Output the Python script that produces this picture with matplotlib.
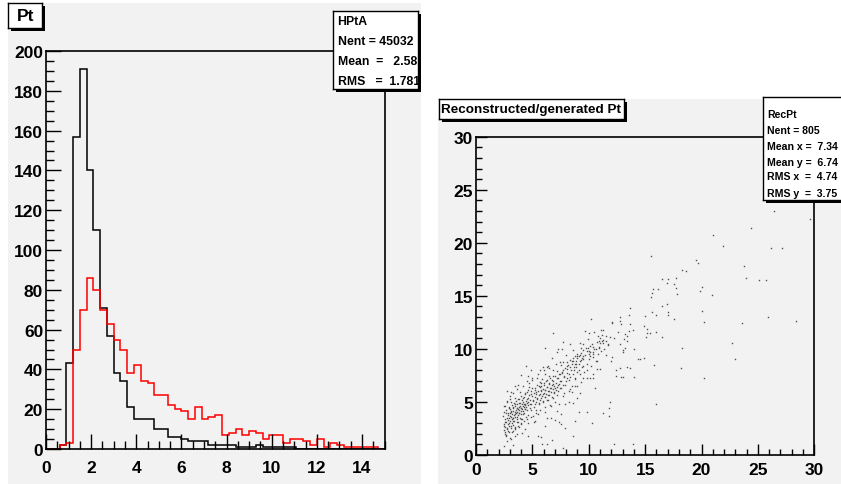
import numpy as np
import matplotlib
matplotlib.use("Agg")
import matplotlib.pyplot as plt
from matplotlib.patches import Rectangle

plt.rcParams['font.family'] = ['Liberation Sans', 'DejaVu Sans']
plt.rcParams['font.weight'] = 'bold'

# --- left pad: Pt histograms, 50 bins of 0.3 from 0 to 15
pt_edges = np.linspace(0, 15, 51)
pt_black = [0, 0, 2, 43, 157, 191, 140, 110, 71, 57,
            38, 34, 21, 15, 15, 15, 10, 10, 6, 6,
            5, 4, 4, 4, 2, 2, 2, 2, 1, 1,
            1, 2, 1, 1, 1, 1, 1, 0, 0, 0,
            0, 0, 0, 0, 0, 0, 0, 0, 0, 0]
pt_red = [0, 0, 2, 3, 50, 70, 86, 80, 70, 63,
          55, 50, 38, 42, 34, 33, 27, 27, 22, 20,
          19, 15, 21, 15, 16, 17, 7, 8, 10, 7,
          9, 8, 5, 7, 7, 3, 5, 5, 4, 2,
          5, 1, 3, 2, 1, 1, 1, 1, 1, 0]
hist_stats = ["HPtA", "Nent = 45032", "Mean  =   2.58", "RMS   =  1.781"]

# --- right pad: reconstructed vs generated Pt
rec_x = [26.4, 29.6, 24.4, 21.0, 21.9, 26.2, 27.1, 15.5, 19.5, 19.7, 23.8, 18.3, 18.6, 23.9, 25.1,
         25.7, 16.5, 17.0, 17.7, 16.9, 17.6, 20.0, 15.7, 16.1, 17.7, 19.9, 15.6, 17.8, 20.9, 15.5,
         16.9, 16.5, 13.7, 20.0, 15.6, 17.0, 13.6, 16.0, 17.0, 15.0, 12.8, 17.6, 12.8, 25.9, 28.4,
         20.2, 23.6, 12.9, 13.7, 14.9, 15.2, 13.9, 13.6, 12.6, 16.0, 15.2, 15.4, 13.2, 13.4, 16.5,
         15.1, 13.1, 13.4, 12.8, 22.7, 13.2, 18.3, 14.0, 13.0, 13.0, 14.9, 14.4, 14.5, 23.0, 15.8,
         13.4, 13.7, 12.8, 18.2, 12.4, 12.9, 13.0, 14.0, 12.4, 20.2, 16.0, 13.9,
         10.2, 12.1, 12.1, 11.1, 11.3, 9.7, 10.5, 10.0, 6.8, 11.2, 10.8, 11.5, 11.9, 12.2, 9.9,
         10.9, 11.2, 11.5, 7.7, 11.0, 11.3, 8.3, 9.5, 11.7, 10.1, 10.4, 6.1, 9.3, 9.75, 10.9,
         10.6, 7.3, 7.6, 11.35, 9.5, 9.8, 10.05, 7.2, 10.35, 9.0, 10.0, 9.2, 10.4, 9.5, 8.8,
         9.1, 10.1, 8.6, 9.0, 9.4, 6.74, 12.1, 9.3, 8.33, 8.6, 8.9, 7.68, 8.04, 7.45, 10.76,
         12.0, 8.5, 8.75, 9.1, 7.09, 7.57, 8.04, 8.33, 8.87, 9.5, 5.91, 6.27, 6.5, 7.74, 8.04,
         8.69, 9.81, 5.67, 6.86, 7.15, 8.98, 7.62, 8.22, 7.45, 9.22, 10.7, 6.15, 6.5, 6.86, 7.8,
         7.15, 8.04, 8.75, 9.5, 10.1, 10.4, 5.85, 6.27, 6.74, 7.45, 8.22, 5.67, 6.03, 6.5, 6.86,
         7.27, 7.86, 8.51, 8.92, 5.79, 6.27, 6.68, 7.03, 7.51, 10.58, 5.73, 6.09, 6.5, 6.92, 8.22,
         8.51, 5.67, 5.97, 6.38, 9.22, 5.73, 6.15, 6.86, 7.74, 8.92, 5.91, 6.27, 7.39, 7.86, 6.62,
         11.88, 11.82, 8.27, 8.63, 6.09, 9.16, 9.81, 11.23, 11.76, 7.51, 6.62, 6.97, 7.33, 7.51, 8.75,
         10.28, 6.15, 7.92, 8.63, 5.79, 6.74, 5.85, 6.27, 7.68, 12.2,
         4.43, 4.85, 4.02, 4.61, 4.96, 5.38, 4.49, 3.72, 4.14, 3.43, 4.67, 5.2, 5.61, 2.78, 3.13,
         3.9, 4.31, 4.9, 5.32, 3.01, 3.43, 3.72, 4.14, 4.61, 5.02, 5.44, 2.72, 3.13, 3.49, 3.84,
         4.31, 4.79, 5.2, 5.56, 2.54, 2.9, 3.25, 3.61, 3.96, 4.37, 4.85, 5.32, 2.48, 2.84, 3.13,
         3.43, 3.78, 4.2, 4.61, 5.08, 5.5, 2.42, 2.72, 3.01, 3.31, 3.66, 4.02, 4.49, 2.6, 2.9,
         3.25, 3.61, 4.02, 4.61, 5.14, 2.48, 2.78, 3.13, 3.49, 3.84, 4.31, 2.54, 2.95, 3.31, 3.66,
         4.08, 2.66, 3.01, 3.43, 2.72, 3.13, 4.61, 5.5, 2.48, 3.25]
rec_y = [23.0, 22.2, 21.4, 20.7, 19.7, 19.5, 19.5, 18.7, 18.4, 18.1, 17.8, 17.4, 17.3, 16.7, 16.5,
         16.5, 16.6, 16.6, 16.7, 16.2, 16.1, 15.8, 15.6, 15.6, 15.7, 15.4, 15.3, 15.2, 15.1, 14.9,
         14.2, 14.0, 13.8, 13.6, 13.5, 13.5, 13.2, 13.2, 13.2, 13.1, 13.0, 12.8, 12.6, 13.0, 12.6,
         12.5, 12.4, 12.3, 12.3, 12.1, 11.9, 11.8, 11.7, 11.6, 11.6, 11.5, 11.5, 11.4, 11.2, 11.1,
         11.1, 10.9, 10.7, 10.4, 10.5, 10.1, 10.1, 10.0, 9.9, 9.7, 9.1, 9.0, 9.0, 9.0, 8.5,
         8.3, 8.2, 8.2, 8.2, 8.0, 7.3, 7.3, 7.3, 7.4, 7.2, 4.8, 1.0,
         12.8, 12.5, 12.4, 11.8, 11.8, 11.7, 11.6, 11.5, 11.5, 11.3, 11.2, 11.2, 11.1, 11.0, 10.9,
         10.7, 10.7, 10.7, 10.6, 10.5, 10.5, 10.4, 10.4, 10.35, 10.3, 10.2, 10.1, 10.1, 10.1, 10.1,
         10.0, 10.0, 10.0, 10.0, 9.9, 9.8, 9.8, 9.66, 9.66, 9.53, 9.53, 9.4, 9.47, 9.35, 9.28,
         9.28, 9.28, 9.16, 9.1, 9.1, 9.1, 9.2, 8.97, 8.9, 8.84, 8.84, 8.78, 8.78, 8.72, 8.84,
         8.84, 8.6, 8.53, 8.53, 8.53, 8.46, 8.4, 8.28, 8.28, 8.34, 8.28, 8.28, 8.15, 8.02, 8.09,
         7.96, 8.02, 7.96, 7.96, 7.9, 7.84, 7.71, 7.65, 7.58, 7.65, 8.09, 7.58, 7.46, 7.39, 7.33,
         7.27, 7.27, 7.27, 7.27, 7.2, 7.2, 7.14, 7.08, 7.02, 6.95, 7.02, 6.83, 6.77, 6.7, 6.64,
         6.58, 6.58, 6.51, 6.45, 6.45, 6.39, 6.33, 6.33, 6.26, 6.26, 6.14, 6.07, 6.01, 5.95, 6.01,
         5.88, 5.76, 5.7, 5.63, 5.82, 5.38, 5.44, 5.38, 5.51, 5.32, 5.07, 5.19, 4.75, 4.75, 4.63,
         4.94, 4.38, 4.94, 4.88, 4.0, 4.0, 4.0, 3.94, 3.68, 3.87, 3.43, 3.24, 3.05, 2.93, 3.18,
         2.99, 2.68, 2.49, 1.73, 1.67, 1.36, 0.98, 0.98, 0.66, 0.98,
         8.4, 8.03, 7.52, 7.4, 7.02, 7.27, 6.96, 6.58, 6.52, 6.45, 6.39, 6.33, 6.52, 6.01, 5.89,
         5.95, 5.83, 5.76, 5.89, 5.51, 5.39, 5.26, 5.32, 5.39, 5.2, 5.32, 5.07, 4.95, 4.82, 4.88,
         4.76, 4.82, 4.76, 4.88, 4.57, 4.44, 4.5, 4.38, 4.44, 4.32, 4.25, 4.19, 4.06, 3.94, 4.13,
         3.88, 3.94, 3.81, 3.75, 3.69, 3.88, 3.62, 3.5, 3.69, 3.44, 3.56, 3.37, 3.37, 3.12, 2.99,
         3.18, 3.06, 2.93, 2.99, 3.06, 2.68, 2.56, 2.68, 2.49, 2.62, 2.43, 2.18, 2.11, 2.24, 1.99,
         2.05, 1.74, 1.61, 1.74, 1.3, 1.49, 1.74, 1.74, 0.79, 0.92]

# dense core of the band, estimated by eye
core_x = [2.45, 2.5, 2.55, 2.6, 2.62, 2.65, 2.7, 2.75, 2.8, 2.82, 2.85, 2.9, 2.92, 2.95, 3.0,
          3.02, 3.05, 3.08, 3.1, 3.12, 3.15, 3.18, 3.2, 3.22, 3.25, 3.28, 3.3, 3.32, 3.35, 3.38,
          3.4, 3.42, 3.45, 3.48, 3.5, 3.52, 3.55, 3.58, 3.6, 3.62, 3.65, 3.68, 3.7, 3.72, 3.75,
          3.78, 3.8, 3.82, 3.85, 3.88, 3.9, 3.92, 3.95, 3.98, 4.0, 4.02, 4.05, 4.08, 4.1, 4.12,
          4.15, 4.18, 4.2, 4.22, 4.25, 4.28, 4.3, 4.32, 4.35, 4.38, 4.4, 4.42, 4.45, 4.48, 4.5,
          4.52, 4.55, 4.58, 4.6, 2.58, 2.7, 2.88, 3.15, 3.45, 3.7, 4.0, 4.3, 2.5, 2.75, 3.05,
          3.3, 3.6,
          4.65, 4.7, 4.75, 4.8, 4.85, 4.9, 4.95, 5.0, 5.05, 5.1, 5.15, 5.2, 5.25, 5.3, 5.35,
          5.4, 5.45, 5.5, 5.55, 5.6, 5.65, 5.7, 5.75, 5.8, 5.85, 5.9, 5.95, 6.0, 6.05, 6.1,
          6.15, 6.2, 6.25, 6.3, 6.35, 6.4, 6.45, 6.5, 6.55, 6.6, 6.65, 6.7, 6.75, 6.8, 6.85,
          6.9, 6.95, 7.0, 7.05, 7.1, 7.15, 7.2, 7.25, 7.3, 7.35, 7.4, 7.45, 4.9, 5.3, 5.7,
          6.1, 6.6, 7.0, 5.0, 5.5, 6.0, 6.4, 4.7, 5.2, 6.3, 7.2,
          7.55, 7.6, 7.7, 7.8, 7.9, 8.0, 8.1, 8.2, 8.3, 8.4, 8.5, 8.6, 8.7, 8.8, 8.9,
          9.0, 9.1, 9.2, 9.3, 9.4, 9.5, 9.6, 9.7, 9.8, 9.9, 10.0, 10.1, 10.2, 10.3, 10.4,
          10.5, 10.6, 10.7, 10.8, 10.9, 11.0, 11.1, 11.3, 11.5, 11.7, 7.8, 8.3, 8.8, 9.3, 9.8,
          10.4, 11.0, 8.0, 8.6, 9.2]
core_y = [2.3, 2.9, 3.4, 2.6, 3.9, 3.1, 4.2, 2.4, 3.3, 3.7, 2.9, 4.5, 3.5, 2.7, 3.9,
          3.2, 4.3, 3.6, 2.5, 4.0, 3.4, 4.7, 3.0, 3.8, 4.1, 3.5, 2.8, 4.4, 3.7, 4.9,
          3.2, 4.0, 3.6, 4.6, 2.6, 4.2, 3.9, 5.1, 3.4, 4.4, 4.0, 4.8, 3.1, 4.3, 3.7,
          5.3, 4.5, 3.9, 4.2, 4.9, 3.5, 4.6, 4.1, 5.5, 4.4, 3.8, 4.8, 4.3, 5.2, 3.4,
          4.6, 4.1, 5.0, 4.5, 3.9, 5.4, 4.8, 4.3, 5.7, 4.7, 3.6, 5.1, 4.5, 5.9, 4.9,
          4.2, 5.3, 4.7, 6.1, 2.0, 1.9, 2.2, 2.1, 2.4, 2.7, 3.0, 3.2, 4.6, 5.0, 5.3,
          5.8, 6.2,
          5.0, 5.6, 4.4, 5.2, 6.0, 4.8, 5.5, 6.3, 5.1, 5.8, 4.5, 5.4, 6.1, 5.0, 5.7,
          6.6, 5.3, 6.0, 4.8, 5.6, 6.4, 5.2, 6.0, 6.8, 5.5, 6.2, 5.0, 5.8, 6.6, 5.4,
          6.1, 7.0, 5.7, 6.4, 5.2, 6.0, 6.8, 5.6, 6.3, 7.2, 5.9, 6.6, 5.4, 6.2, 7.0,
          5.8, 6.5, 7.4, 6.1, 6.8, 5.6, 6.4, 7.2, 6.0, 6.7, 7.6, 6.3, 3.6, 3.9, 4.2,
          4.5, 4.7, 5.0, 7.2, 7.6, 8.0, 8.4, 6.8, 3.2, 3.5, 4.1,
          7.0, 7.8, 6.6, 7.4, 8.2, 7.0, 7.7, 8.5, 7.3, 8.0, 8.8, 7.6, 8.3, 7.1, 8.6,
          9.3, 8.0, 8.8, 9.6, 8.3, 9.0, 7.8, 9.4, 8.6, 10.1, 9.0, 9.7, 8.4, 10.4, 9.2,
          10.0, 8.8, 10.6, 9.5, 10.2, 11.0, 9.8, 10.8, 9.4, 10.4, 5.8, 6.2, 6.5, 6.9, 7.2,
          7.6, 8.1, 9.4, 9.9, 10.5]
rec_stats = ["RecPt", "Nent = 805", "Mean x =  7.34", "Mean y =  6.74", "RMS x  =  4.74", "RMS y  =  3.75"]

W, H = 841, 485
GRAY = '#f2f2f2'


def fbox(x0, y0, x1, y1):
    # pixel box (top-left origin) -> figure fraction [left, bottom, width, height]
    return [x0 / W, 1 - y1 / H, (x1 - x0) / W, (y1 - y0) / H]


fig = plt.figure(figsize=(W / 100, H / 100), dpi=100)

# pads
for b in [(8, 4, 421, 485), (438, 100, 841, 485)]:
    l, bt, w, h = fbox(*b)
    fig.add_artist(Rectangle((l, bt), w, h, transform=fig.transFigure,
                             facecolor=GRAY, edgecolor='none', zorder=-5))


def label_box(x0, y0, x1, y1, shadow=3):
    l, bt, w, h = fbox(x0 + shadow, y0 + shadow, x1 + shadow, y1 + shadow)
    fig.add_artist(Rectangle((l, bt), w, h, transform=fig.transFigure,
                             facecolor='black', edgecolor='none', zorder=5))
    a = fig.add_axes(fbox(x0, y0, x1, y1), zorder=6)
    a.set_xlim(x0, x1)
    a.set_ylim(y1, y0)
    a.set_xticks([])
    a.set_yticks([])
    a.set_facecolor('white')
    for s in a.spines.values():
        s.set_linewidth(1.0)
    return a


def style_axes(ax, tl_major, tl_minor, pad_x, pad_y):
    ax.set_facecolor('none')
    for s in ax.spines.values():
        s.set_linewidth(1.2)
    ax.tick_params(which='both', direction='in', top=False, right=False, width=1.0,
                   labelsize=12.5)
    ax.tick_params(which='major', length=tl_major)
    ax.tick_params(which='minor', length=tl_minor)
    ax.tick_params(axis='x', pad=pad_x)
    ax.tick_params(axis='y', pad=pad_y)
    for t in ax.get_xticklabels() + ax.get_yticklabels():
        t.set_fontweight('bold')


# ---------------- left: histograms
ax1 = fig.add_axes(fbox(46, 52, 384.5, 450))
ax1.stairs(pt_black, pt_edges, color='black', lw=1.1)
ax1.stairs(pt_red, pt_edges, color='red', lw=1.1)
ax1.set_xlim(0, 15)
ax1.set_ylim(0, 200)
ax1.set_xticks(np.arange(0, 15, 2))
ax1.set_xticks(np.arange(0, 15.01, 0.5), minor=True)
ax1.set_yticks(np.arange(0, 201, 20))
ax1.set_yticks(np.arange(0, 201, 5), minor=True)
style_axes(ax1, 11, 5.5, 8, 2)

t = label_box(8.3, 4, 42.3, 29.3, shadow=2.5)
t.text(16.5, 16.5, "Pt", fontsize=12.5, fontweight='bold', va='center', ha='left', clip_on=True)

s1 = label_box(333.3, 11.7, 417.7, 90, shadow=3)
for i, txt in enumerate(hist_stats):
    s1.text(337.5, 21.7 + i * 20, txt, fontsize=8.8, fontweight='bold', va='center', ha='left',
            clip_on=True)

# ---------------- right: scatter
ax2 = fig.add_axes(fbox(476, 137.7, 814.3, 455.7))
ax2.plot(rec_x + core_x, rec_y + core_y, 's', ms=1.0, mew=0, color='#505050')
ax2.set_xlim(0, 30)
ax2.set_ylim(0, 30)
ax2.set_xticks(np.arange(0, 31, 5))
ax2.set_xticks(np.arange(0, 31, 1), minor=True)
ax2.set_yticks(np.arange(0, 31, 5))
ax2.set_yticks(np.arange(0, 31, 1), minor=True)
style_axes(ax2, 8, 4, 5, 2)

t2 = label_box(439, 100, 624, 120, shadow=3)
t2.text(441, 110.5, "Reconstructed/generated Pt", fontsize=9.7, fontweight='bold', va='center',
        ha='left', clip_on=True)

s2 = label_box(763.3, 98.3, 860, 201, shadow=3)
for txt, yy in zip(rec_stats, [115, 131.3, 146.7, 162.7, 177.3, 194]):
    s2.text(767.5, yy, txt, fontsize=7.6, fontweight='bold', va='center', ha='left', clip_on=True)

fig.savefig("out.png", dpi=100)
